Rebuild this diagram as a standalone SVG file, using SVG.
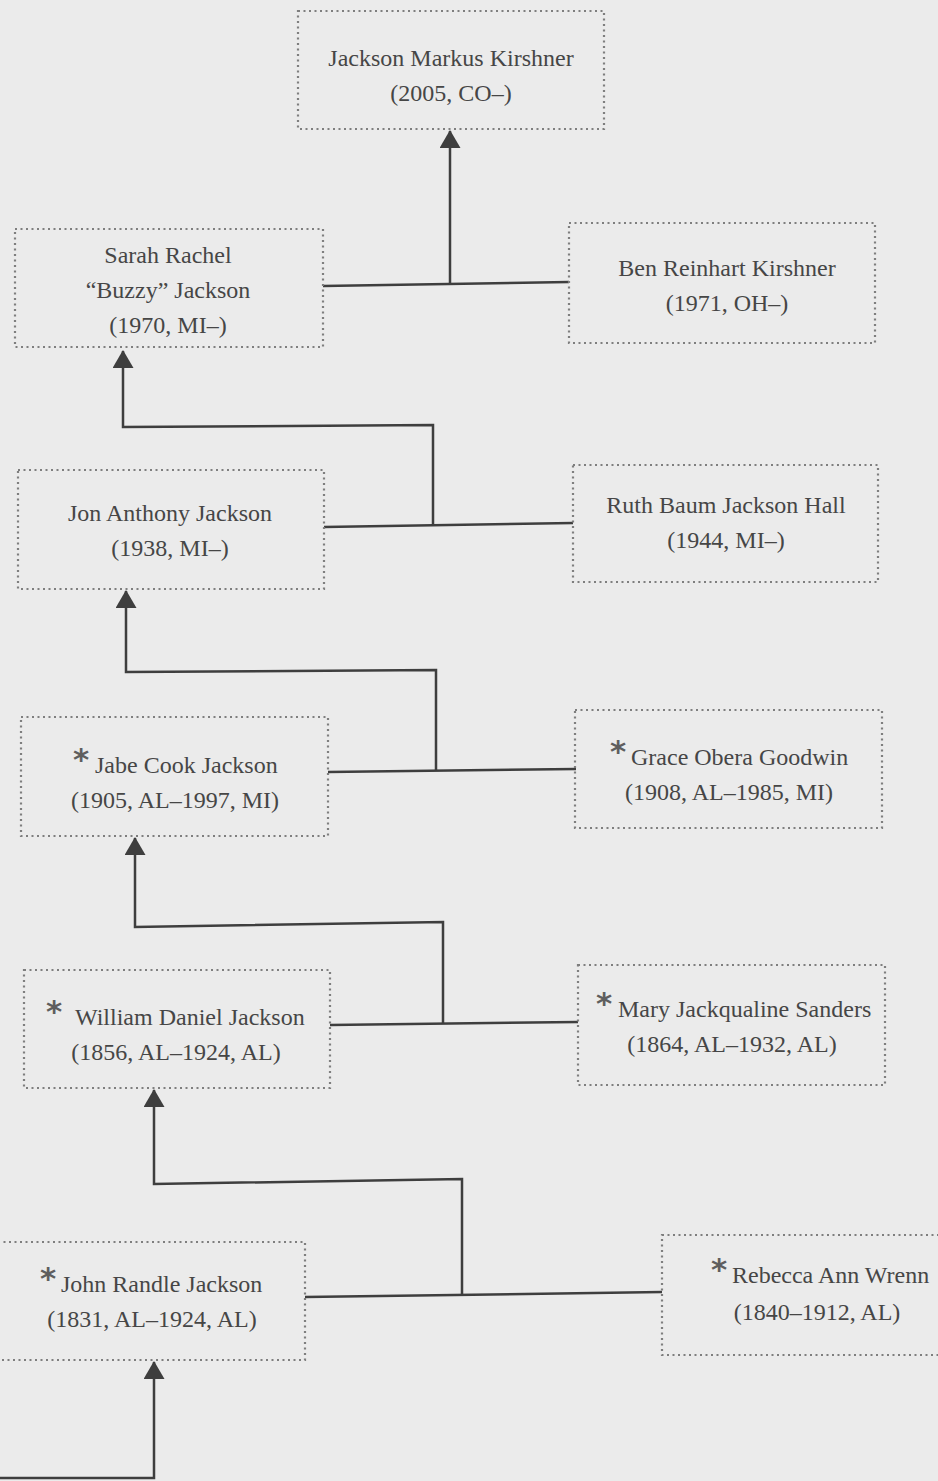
<svg xmlns="http://www.w3.org/2000/svg" width="938" height="1481" viewBox="0 0 938 1481">
<style>
.box{fill:none;stroke:#7e7e7e;stroke-width:2.2;stroke-dasharray:2 3.5}
.t{font-family:"Liberation Serif","Times New Roman",serif;font-size:24px;fill:#464646}
.m{text-anchor:middle}
.ast{font-family:"DejaVu Sans",sans-serif;font-weight:bold;font-size:31px;fill:#5e5e5e}
.ln{fill:none;stroke:#3e3e3e;stroke-width:2.5;stroke-linejoin:miter}
</style>
<defs>
<marker id="ah" viewBox="0 0 18 21" refX="17" refY="10.5" markerWidth="18" markerHeight="21" markerUnits="userSpaceOnUse" orient="auto">
<path d="M0,0 L18,10.5 L0,21 z" fill="#3e3e3e"/>
</marker>
</defs>
<rect width="938" height="1481" fill="#ebebeb"/>
<g id="connectors">
<path class="ln" d="M323,286 L569,282"/>
<path class="ln" d="M450,284 L450,131" marker-end="url(#ah)"/>
<path class="ln" d="M324,527 L573,523"/>
<path class="ln" d="M433,525 L433,425 L123,427 L123,351" marker-end="url(#ah)"/>
<path class="ln" d="M328,772 L576,769"/>
<path class="ln" d="M436,770 L436,670 L126,672 L126,591" marker-end="url(#ah)"/>
<path class="ln" d="M330,1025 L578,1022"/>
<path class="ln" d="M443,1024 L443,922 L135,927 L135,838" marker-end="url(#ah)"/>
<path class="ln" d="M305,1297 L662,1292"/>
<path class="ln" d="M462,1294 L462,1179 L154,1184 L154,1090" marker-end="url(#ah)"/>
<path class="ln" d="M0,1478 L154,1478 L154,1362" marker-end="url(#ah)"/>
</g>
<g id="n-jackson-markus">
<rect class="box" x="298" y="11" width="306" height="118"/>
<text class="t m" x="451" y="66">Jackson Markus Kirshner</text>
<text class="t m" x="451" y="101">(2005, CO–)</text>
</g>
<g id="n-sarah">
<rect class="box" x="15" y="229" width="308" height="118"/>
<text class="t m" x="168" y="263">Sarah Rachel</text>
<text class="t m" x="168" y="298">“Buzzy” Jackson</text>
<text class="t m" x="168" y="333">(1970, MI–)</text>
</g>
<g id="n-ben">
<rect class="box" x="569" y="223" width="306" height="120"/>
<text class="t m" x="727" y="276">Ben Reinhart Kirshner</text>
<text class="t m" x="727" y="311">(1971, OH–)</text>
</g>
<g id="n-jon">
<rect class="box" x="18" y="470" width="306" height="119"/>
<text class="t m" x="170" y="521">Jon Anthony Jackson</text>
<text class="t m" x="170" y="556">(1938, MI–)</text>
</g>
<g id="n-ruth">
<rect class="box" x="573" y="465" width="305" height="117"/>
<text class="t m" x="726" y="513">Ruth Baum Jackson Hall</text>
<text class="t m" x="726" y="548">(1944, MI–)</text>
</g>
<g id="n-jabe">
<rect class="box" x="21" y="717" width="307" height="119"/>
<text class="t" x="73" y="773"><tspan class="ast" dy="-3">*</tspan><tspan dy="3" x="95">Jabe Cook Jackson</tspan></text>
<text class="t m" x="175" y="808">(1905, AL–1997, MI)</text>
</g>
<g id="n-grace">
<rect class="box" x="575" y="710" width="307" height="118"/>
<text class="t" x="610" y="765"><tspan class="ast" dy="-3">*</tspan><tspan dy="3" x="631">Grace Obera Goodwin</tspan></text>
<text class="t m" x="729" y="800">(1908, AL–1985, MI)</text>
</g>
<g id="n-william">
<rect class="box" x="24" y="970" width="306" height="118"/>
<text class="t" x="46" y="1025"><tspan class="ast" dy="-3">*</tspan><tspan dy="3" x="75">William Daniel Jackson</tspan></text>
<text class="t m" x="176" y="1060">(1856, AL–1924, AL)</text>
</g>
<g id="n-mary">
<rect class="box" x="578" y="965" width="307" height="120"/>
<text class="t" x="596" y="1017"><tspan class="ast" dy="-3">*</tspan><tspan dy="3" x="618">Mary Jackqualine Sanders</tspan></text>
<text class="t m" x="732" y="1052">(1864, AL–1932, AL)</text>
</g>
<g id="n-john">
<rect class="box" x="-2" y="1242" width="307" height="118"/>
<text class="t" x="40" y="1292"><tspan class="ast" dy="-3">*</tspan><tspan dy="3" x="61">John Randle Jackson</tspan></text>
<text class="t m" x="152" y="1327">(1831, AL–1924, AL)</text>
</g>
<g id="n-rebecca">
<rect class="box" x="662" y="1235" width="290" height="120"/>
<text class="t" x="711" y="1283"><tspan class="ast" dy="-3">*</tspan><tspan dy="3" x="732">Rebecca Ann Wrenn</tspan></text>
<text class="t m" x="817" y="1320">(1840–1912, AL)</text>
</g>
</svg>
